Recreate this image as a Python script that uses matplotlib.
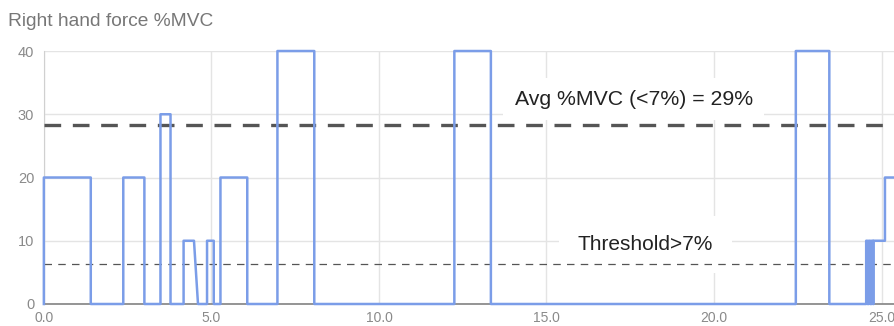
import matplotlib
matplotlib.use("Agg")
import matplotlib.pyplot as plt
from matplotlib.ticker import MultipleLocator, FormatStrFormatter

plt.rcParams['font.family'] = ['Liberation Sans', 'DejaVu Sans']

# time (x) and right hand force %MVC (y), vertices of the trace
t = [0, 0, 1.4, 1.4, 2.37, 2.37, 3.0, 3.0, 3.48, 3.48, 3.78, 3.78,
     4.17, 4.17, 4.48, 4.6, 4.87, 4.87, 5.07, 5.07, 5.27, 5.27, 6.07, 6.07,
     6.97, 6.97, 8.07, 8.07, 12.25, 12.25, 13.34, 13.34,
     22.44, 22.44, 23.44, 23.44,
     24.54, 24.54, 24.58, 24.58, 24.62, 24.62, 24.66, 24.66, 24.70, 24.70,
     24.74, 24.74, 24.76, 24.76, 25.1, 25.1, 25.6]
pct = [0, 20, 20, 0, 0, 20, 20, 0, 0, 30, 30, 0,
       0, 10, 10, 0, 0, 10, 10, 0, 0, 20, 20, 0,
       0, 40, 40, 0, 0, 40, 40, 0,
       0, 40, 40, 0,
       0, 10, 10, 0, 0, 10, 10, 0, 0, 10,
       10, 0, 0, 10, 10, 20, 20]

avg_mvc = 28.3
threshold = 6.3
avg_label = "Avg %MVC (<7%) = 29%"
thr_label = "Threshold>7%"

fig = plt.figure(figsize=(8.95, 3.26), dpi=100)
ax = fig.add_axes([0.049, 0.0675, 0.951, 0.776])

ax.plot(t, pct, color='#7b9de8', lw=1.8, zorder=4, clip_on=False)
ax.axhline(avg_mvc, color='#555555', lw=2.4, dashes=(5, 3.5), zorder=3)
ax.axhline(threshold, color='#555555', lw=0.9, dashes=(6, 5), zorder=3)

ax.text(17.6, 32.4, avg_label, fontsize=15.3, color='#222222', ha='center', va='center',
        zorder=2, bbox=dict(boxstyle='square,pad=0.55', fc='white', ec='none'))
ax.text(17.95, 9.4, thr_label, fontsize=15, color='#222222', ha='center', va='center',
        zorder=2, bbox=dict(boxstyle='square,pad=0.9', fc='white', ec='none'))

ax.set_xlim(0, 25.4)
ax.set_ylim(0, 40)
ax.xaxis.set_major_locator(MultipleLocator(5))
ax.yaxis.set_major_locator(MultipleLocator(10))
ax.xaxis.set_major_formatter(FormatStrFormatter('%.1f'))
ax.grid(True, color='#e4e4e4', lw=1, zorder=0)
ax.set_axisbelow(True)
for s in ['top', 'right']:
    ax.spines[s].set_visible(False)
ax.spines['left'].set_color('#d0d0d0')
ax.spines['bottom'].set_color('#8c8c8c')
ax.spines['bottom'].set_linewidth(1.3)
ax.tick_params(axis='x', length=0, labelsize=10, labelcolor='#8a8a8a', pad=5)
ax.tick_params(axis='y', length=0, labelsize=10.5, labelcolor='#8a8a8a', pad=7)

fig.text(0.009, 0.92, "Right hand force %MVC", fontsize=13.8, color='#777777', ha='left', va='baseline')

fig.savefig("out.png", dpi=100)
